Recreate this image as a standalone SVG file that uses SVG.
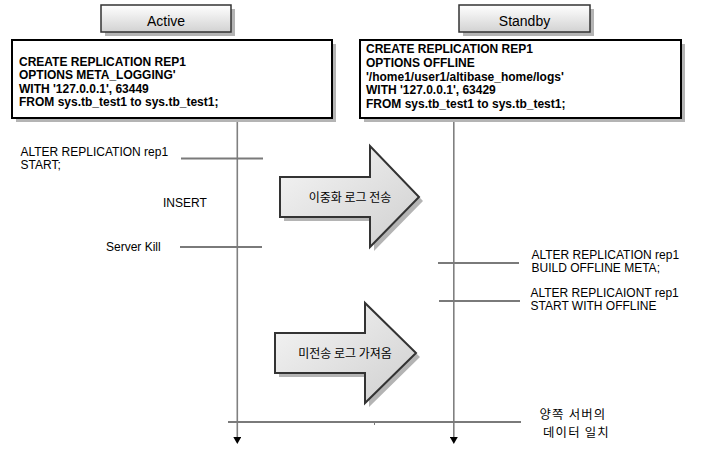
<svg xmlns="http://www.w3.org/2000/svg" width="718" height="469" viewBox="0 0 718 469">
<defs>
<linearGradient id="hdrGrad" x1="0" y1="0" x2="0" y2="1">
<stop offset="0" stop-color="#ffffff"/>
<stop offset="1" stop-color="#d2d2d2"/>
</linearGradient>
<linearGradient id="arrGrad" x1="0" y1="0" x2="1" y2="1">
<stop offset="0" stop-color="#f6f6f6"/>
<stop offset="1" stop-color="#cfcfcf"/>
</linearGradient>
<marker id="tri" viewBox="0 0 7 8" refX="0" refY="4" markerWidth="7" markerHeight="8" markerUnits="userSpaceOnUse" orient="auto">
<path d="M0,0 L7,4 L0,8 Z" fill="#000"/>
</marker>
</defs>
<style>
.hdr{fill:url(#hdrGrad);stroke:#333;stroke-width:1.5}
.shadow{fill:#b4b4b4}
.box{fill:#fff;stroke:#000;stroke-width:2}
.arr{fill:url(#arrGrad);stroke:#333;stroke-width:2;stroke-linejoin:miter}
.t{font-family:"Liberation Sans",Arial,sans-serif;font-size:12px;fill:#000}
.tb{font-family:"Liberation Sans",Arial,sans-serif;font-size:12px;font-weight:bold;fill:#000}
.th{font-family:"Liberation Sans",Arial,sans-serif;font-size:14px;fill:#000}
.k{font-family:"Noto Sans CJK KR","Noto Sans",sans-serif;font-size:12px;fill:#000}
.kb{font-family:"Noto Sans CJK KR","Noto Sans",sans-serif;font-size:12.4px;letter-spacing:1.2px;fill:#000}
.life{stroke:#808080;stroke-width:1.6;fill:none}
.hl{stroke:#7a7a7a;stroke-width:2;fill:none}
</style>
<rect width="718" height="469" fill="#fff"/>

<g id="connectors">
<line class="life" x1="237.3" y1="118" x2="237.3" y2="437" marker-end="url(#tri)"/>
<line class="life" x1="453.8" y1="118" x2="453.8" y2="437" marker-end="url(#tri)"/>
<line class="hl" x1="181" y1="158.5" x2="263" y2="158.5"/>
<line class="hl" x1="180" y1="247" x2="262" y2="247"/>
<line class="hl" x1="438" y1="263" x2="519" y2="263"/>
<line class="hl" x1="439" y1="301" x2="520" y2="301"/>
<line class="hl" x1="228" y1="422" x2="521" y2="422"/>
<line stroke="#7a7a7a" stroke-width="1" x1="374.5" y1="422" x2="374.5" y2="425"/>
</g>

<g id="node-active-header">
<rect class="shadow" x="105" y="9" width="130" height="27"/>
<rect class="hdr" x="101" y="5" width="130" height="27"/>
<text class="th" x="166" y="26" text-anchor="middle">Active</text>
</g>

<g id="node-standby-header">
<rect class="shadow" x="463" y="9" width="131" height="27"/>
<rect class="hdr" x="459" y="5" width="131" height="27"/>
<text class="th" x="524.5" y="26" text-anchor="middle">Standby</text>
</g>

<g id="node-active-create">
<rect class="shadow" x="16" y="44" width="320" height="78"/>
<rect class="box" x="12" y="40" width="320" height="78"/>
<text class="tb" x="19" y="66">CREATE REPLICATION REP1</text>
<text class="tb" x="19" y="79.3">OPTIONS META_LOGGING'</text>
<text class="tb" x="19" y="92.6">WITH '127.0.0.1', 63449</text>
<text class="tb" x="19" y="105.9">FROM sys.tb_test1 to sys.tb_test1;</text>
</g>

<g id="node-standby-create">
<rect class="shadow" x="364" y="44" width="321" height="78"/>
<rect class="box" x="360" y="40" width="321" height="78"/>
<text class="tb" x="366" y="53.3">CREATE REPLICATION REP1</text>
<text class="tb" x="366" y="66.9">OPTIONS OFFLINE</text>
<text class="tb" x="366" y="80.5">'/home1/user1/altibase_home/logs'</text>
<text class="tb" x="366" y="94.1">WITH '127.0.0.1', 63429</text>
<text class="tb" x="366" y="107.7">FROM sys.tb_test1 to sys.tb_test1;</text>
</g>

<g id="node-alter-start">
<text class="t" x="20.5" y="155.5">ALTER REPLICATION rep1</text>
<text class="t" x="20.5" y="169">START;</text>
</g>

<g id="node-insert">
<text class="t" x="163" y="207">INSERT</text>
</g>

<g id="node-server-kill">
<text class="t" x="106" y="251">Server Kill</text>
</g>

<g id="node-build-offline">
<text class="t" x="531.5" y="258.5">ALTER REPLICATION rep1</text>
<text class="t" x="531.5" y="271.5">BUILD OFFLINE META;</text>
</g>

<g id="node-start-offline">
<text class="t" x="530.5" y="297">ALTER REPLICAIONT rep1</text>
<text class="t" x="530.5" y="310">START WITH OFFLINE</text>
</g>

<g id="node-send-log">
<polygon class="shadow" points="284,181 374,181 374,150 423,201 374,251 374,221 284,221"/>
<polygon class="arr" points="280,177 370,177 370,146 419,197 370,247 370,217 280,217"/>
<text class="k" x="350" y="201.5" text-anchor="middle">이중화 로그 전송</text>
</g>

<g id="node-fetch-log">
<polygon class="shadow" points="279,337 369,337 369,307 420,357 369,407 369,377 279,377"/>
<polygon class="arr" points="275,333 365,333 365,303 416,353 365,403 365,373 275,373"/>
<text class="k" x="345" y="357.5" text-anchor="middle">미전송 로그 가져옴</text>
</g>

<g id="node-data-match">
<text class="kb" text-anchor="middle"><tspan x="573" y="418.5">양쪽 서버의</tspan><tspan x="576.5" y="436.5">데이터 일치</tspan></text>
</g>
</svg>
